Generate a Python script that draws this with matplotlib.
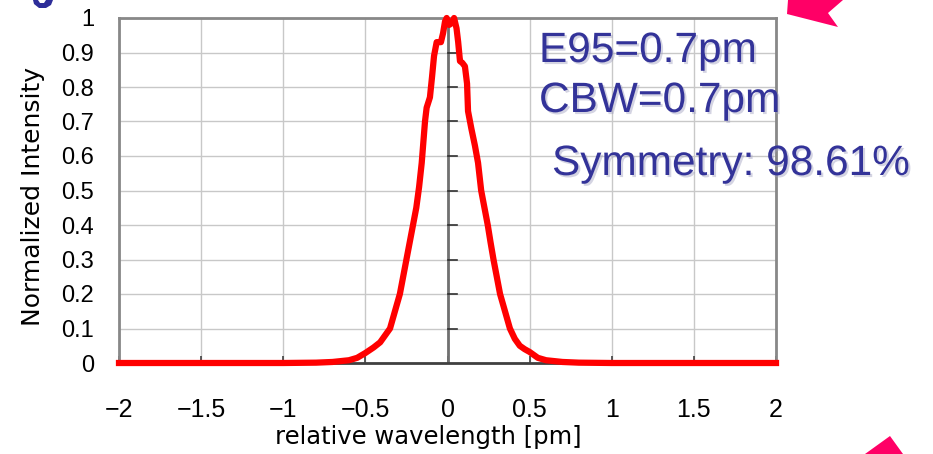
import numpy as np
import matplotlib.pyplot as plt
import matplotlib.patheffects as pe
from matplotlib.patches import Polygon

plt.rcParams['font.family'] = ['Liberation Sans', 'DejaVu Sans']

# spectrum, relative wavelength [pm] vs normalized intensity
wl = [-2.0, -1.0, -0.8, -0.7, -0.6, -0.55, -0.5, -0.45, -0.41, -0.38, -0.35,
      -0.32, -0.29, -0.27, -0.25, -0.23, -0.21, -0.19, -0.173, -0.157, -0.137,
      -0.127, -0.107, -0.094, -0.082, -0.066, -0.04, -0.027, -0.015, -0.005,
      0.01, 0.025, 0.04, 0.055, 0.065, 0.076, 0.09, 0.106, 0.119, 0.125,
      0.145, 0.167, 0.186, 0.205, 0.225, 0.245, 0.262, 0.28, 0.30, 0.32,
      0.35, 0.38, 0.41, 0.44, 0.47, 0.5, 0.55, 0.6, 0.7, 0.8, 1.0, 2.0]
inten = [0.0, 0.0, 0.001, 0.003, 0.008, 0.015, 0.029, 0.045, 0.06, 0.08, 0.10,
         0.15, 0.20, 0.25, 0.30, 0.35, 0.40, 0.45, 0.51, 0.58, 0.70,
         0.74, 0.77, 0.83, 0.89, 0.93, 0.93, 0.956, 0.99, 1.0,
         0.98, 0.985, 1.0, 0.97, 0.93, 0.875, 0.87, 0.86, 0.81, 0.73,
         0.68, 0.63, 0.58, 0.50, 0.45, 0.40, 0.35, 0.30, 0.25, 0.20,
         0.15, 0.10, 0.07, 0.05, 0.04, 0.032, 0.015, 0.008, 0.003, 0.001, 0.0, 0.0]

notes = ['E95=0.7pm', 'CBW=0.7pm', 'Symmetry: 98.61%']
note_color = '#333399'

W, H = 933, 454
fig = plt.figure(figsize=(W / 100, H / 100), dpi=100)
ax = fig.add_axes([119 / W, 1 - 363 / H, (776 - 119) / W, (363 - 18) / H])

ax.set_xlim(-2, 2)
ax.set_ylim(0, 1)
ax.set_xticks(np.arange(-2, 2.01, 0.5))
ax.set_yticks(np.arange(0, 1.01, 0.1))
ax.set_xticklabels(['\u22122', '\u22121.5', '\u22121', '\u22120.5', '0', '0.5', '1', '1.5', '2'])
ax.set_yticklabels(['0', '0.1', '0.2', '0.3', '0.4', '0.5', '0.6', '0.7', '0.8', '0.9', '1'])
ax.grid(True, color='#c8c8c8', lw=1.0)
ax.set_axisbelow(True)
ax.tick_params(axis='x', direction='in', length=5, width=1.2, color='#404040',
               labelsize=18, pad=25)
ax.tick_params(axis='y', length=0, labelsize=17, pad=18)

for s in ['top', 'right', 'left']:
    ax.spines[s].set_color('#888888')
    ax.spines[s].set_linewidth(2)
ax.spines['bottom'].set_color('#404040')
ax.spines['bottom'].set_linewidth(2)

# vertical axis line at zero with small ticks on the right
ax.axvline(0, color='#707070', lw=2, zorder=1)
for yv in np.arange(0.1, 1.0, 0.1):
    ax.plot([0, 0.06], [yv, yv], color='#303030', lw=1.2, zorder=1)

ax.plot(wl, inten, color='#ff0000', lw=4.5, zorder=3, clip_on=False,
        solid_joinstyle='round')

ax.set_xlabel('relative wavelength [pm]', fontsize=17.5, family=['DejaVu Sans'],
              va='center')
ax.set_ylabel('Normalized Intensity', fontsize=18, family=['DejaVu Sans'],
              va='center')
ax.xaxis.set_label_coords((428 - 119) / 657, -(437 - 363) / 345)
ax.yaxis.set_label_coords(-(119 - 33) / 657, (363 - 197) / 345)

shadow = [pe.withSimplePatchShadow(offset=(1.5, -1.5), shadow_rgbFace='#a0a0c0', alpha=0.45)]
fig.text(539 / W, 1 - 62 / H, notes[0], fontsize=30.5, color=note_color,
         ha='left', va='baseline', path_effects=shadow)
fig.text(539 / W, 1 - 112 / H, notes[1], fontsize=30.5, color=note_color,
         ha='left', va='baseline', path_effects=shadow)
fig.text(552 / W, 1 - 175 / H, notes[2], fontsize=30.5, color=note_color,
         ha='left', va='baseline', path_effects=shadow)

# pink arrow heads at the figure edges, and a clipped blue title stroke
pts_top = [(788, 0), (787, 14), (838, 27), (828, 13), (843, 0)]
pts_bot = [(890, 436), (865, 454), (903, 454)]
pts_blue = [(33, 0), (34, 4), (39, 8), (46, 8), (51, 5), (53, 0),
            (46, 0), (44, 3), (40, 3), (38, 0)]
for pts, c in ((pts_top, '#ff0066'), (pts_bot, '#ff0066'), (pts_blue, '#2e2e99')):
    fig.patches.append(Polygon([(x / W, 1 - y / H) for x, y in pts], closed=True,
                               transform=fig.transFigure, color=c, lw=0))

fig.savefig('out.png', dpi=100)
